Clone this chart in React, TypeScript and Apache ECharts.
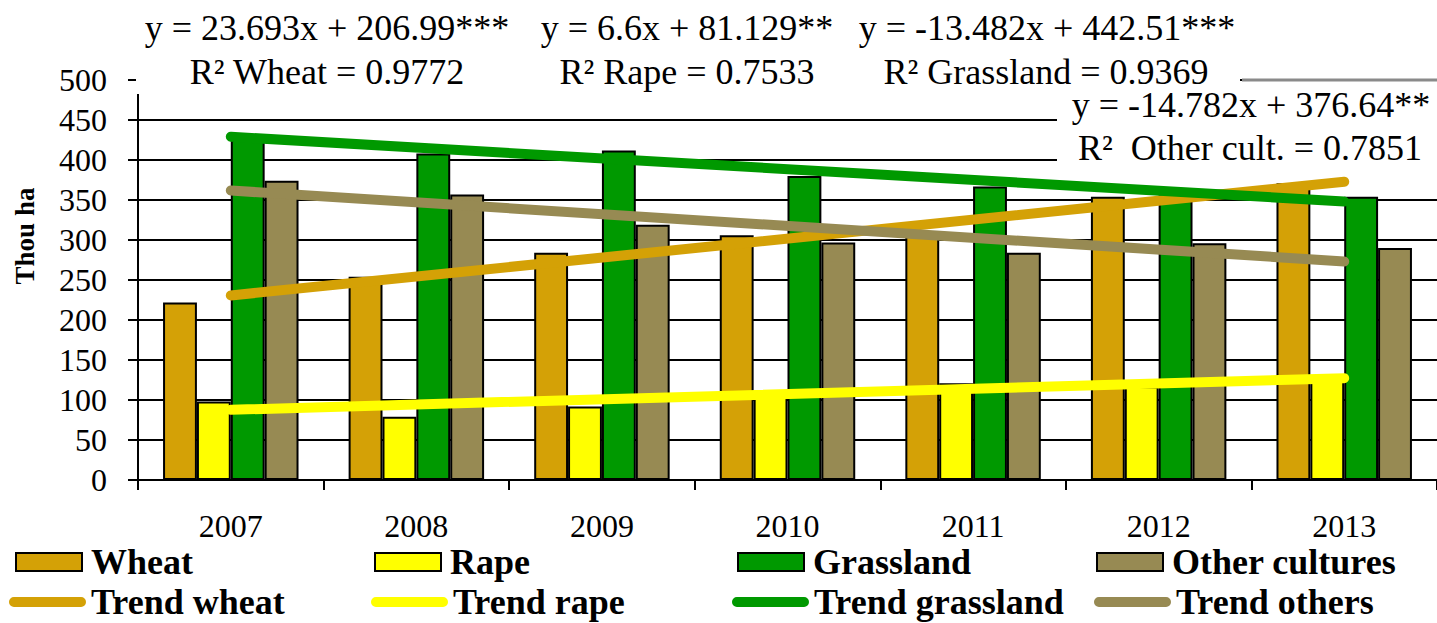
import React, { useEffect, useRef } from "react";
import * as echarts from "echarts";

const years = ["2007", "2008", "2009", "2010", "2011", "2012", "2013"];
const wheat = [222, 254, 284, 306, 310, 354, 371];
const rape = [98, 79, 92, 107, 121, 117, 130];
const grassland = [425, 408, 412, 380, 367, 356, 354];
const others = [374, 357, 319, 297, 284, 296, 290];

// trend line end points (from the fitted equations, x = 1 and x = 7)
const trendWheat = [230.68, null, null, null, null, null, 372.84];
const trendRape = [87.73, null, null, null, null, null, 127.33];
const trendGrass = [429.03, null, null, null, null, null, 348.14];
const trendOthers = [361.86, null, null, null, null, null, 273.17];

const eqWheat = ["y = 23.693x + 206.99***", "R² Wheat = 0.9772"];
const eqRape = ["y = 6.6x + 81.129**", "R² Rape = 0.7533"];
const eqGrass = ["y = -13.482x + 442.51***", "R² Grassland = 0.9369"];
const eqOthers = ["y = -14.782x + 376.64**", "R²  Other cult. = 0.7851"];

const C_WHEAT = "#D4A106";
const C_RAPE = "#FFFF00";
const C_GRASS = "#009900";
const C_OTHER = "#978A53";

const FONT = "Liberation Serif";

const barLegend = (name: string, left: number) => ({
  data: [name],
  left,
  top: 544,
  padding: 0,
  itemWidth: 66,
  itemHeight: 18,
  icon: "rect",
  selectedMode: false,
  itemStyle: { borderColor: "#000", borderWidth: 2 },
  textStyle: {
    fontFamily: FONT,
    fontWeight: "bold",
    fontSize: 36,
    lineHeight: 34,
    color: "#000",
    padding: [0, 0, 0, 4],
  },
});

const LINE_ICON = "path://M5,0L73,0A5,5,0,0,1,73,10L5,10A5,5,0,0,1,5,0Z";

const lineLegend = (name: string, left: number) => ({
  data: [name],
  left,
  top: 584,
  padding: 0,
  itemWidth: 77,
  itemHeight: 10,
  icon: LINE_ICON,
  selectedMode: false,
  itemStyle: { borderWidth: 0 },
  textStyle: {
    fontFamily: FONT,
    fontWeight: "bold",
    fontSize: 36,
    lineHeight: 34,
    color: "#000",
  },
});

const eqText = (text: string, x: number, y: number) => ({
  type: "text",
  x,
  y,
  z: 10,
  style: {
    text,
    fill: "#000",
    fontFamily: FONT,
    fontSize: 36,
    align: "center",
    verticalAlign: "middle",
  },
});

const barSeries = (name: string, data: number[], color: string) => ({
  name,
  type: "bar",
  data,
  barGap: "0%",
  barCategoryGap: "27%",
  itemStyle: { color, borderColor: "#000", borderWidth: 2 },
  z: 2,
});

const lineSeries = (name: string, data: (number | null)[], color: string) => ({
  name,
  type: "line",
  data,
  connectNulls: true,
  symbol: "none",
  color,
  itemStyle: { color },
  lineStyle: { color, width: 10, cap: "round" },
  z: 5,
});

export default function App() {
  const ref = useRef<HTMLDivElement>(null);
  useEffect(() => {
    document.body.style.margin = "0";
    const chart = echarts.init(ref.current!, null, { renderer: "svg" });
    const option: any = {
      animation: false,
      backgroundColor: "#fff",
      textStyle: { fontFamily: FONT },
      grid: { left: 138, top: 80, width: 1304, height: 400 },
      xAxis: {
        type: "category",
        data: years,
        axisLine: { lineStyle: { color: "#000", width: 2 } },
        axisTick: { show: true, length: 10, lineStyle: { color: "#000", width: 2 } },
        axisLabel: { fontFamily: FONT, fontSize: 32, color: "#000", margin: 30 },
      },
      yAxis: {
        type: "value",
        min: 0,
        max: 500,
        interval: 50,
        axisLine: { show: true, lineStyle: { color: "#000", width: 2 } },
        axisTick: { show: true, length: 10, lineStyle: { color: "#000", width: 2 } },
        splitLine: { show: true, lineStyle: { color: "#000", width: 2 } },
        axisLabel: { fontFamily: FONT, fontSize: 32, color: "#000", margin: 31 },
      },
      legend: [
        barLegend("Wheat", 15),
        barLegend("Rape", 374),
        barLegend("Grassland", 737),
        barLegend("Other cultures", 1096),
        lineLegend("Trend wheat", 9),
        lineLegend("Trend rape", 371),
        lineLegend("Trend grassland", 732),
        lineLegend("Trend others", 1094),
      ],
      graphic: [
        { type: "rect", z: 1, shape: { x: 136, y: 0, width: 1104, height: 94 }, style: { fill: "#fff" } },
        { type: "rect", z: 1, shape: { x: 1057, y: 88, width: 380, height: 82 }, style: { fill: "#fff" } },
        { type: "line", z: 1, shape: { x1: 1242, y1: 80, x2: 1437, y2: 80 }, style: { stroke: "#8a8a8a", lineWidth: 3 } },
        {
          type: "text",
          x: 25,
          y: 236,
          rotation: Math.PI / 2,
          z: 10,
          style: {
            text: "Thou ha",
            fill: "#000",
            fontFamily: FONT,
            fontWeight: "bold",
            fontSize: 27,
            align: "center",
            verticalAlign: "middle",
          },
        },
        eqText(eqWheat[0], 327, 28),
        eqText(eqWheat[1], 327, 72),
        eqText(eqRape[0], 687, 28),
        eqText(eqRape[1], 687, 72),
        eqText(eqGrass[0], 1047, 28),
        eqText(eqGrass[1], 1046, 72),
        eqText(eqOthers[0], 1251, 105),
        eqText(eqOthers[1], 1250, 148),
      ],
      series: [
        barSeries("Wheat", wheat, C_WHEAT),
        barSeries("Rape", rape, C_RAPE),
        barSeries("Grassland", grassland, C_GRASS),
        barSeries("Other cultures", others, C_OTHER),
        lineSeries("Trend wheat", trendWheat, C_WHEAT),
        lineSeries("Trend rape", trendRape, C_RAPE),
        lineSeries("Trend grassland", trendGrass, C_GRASS),
        lineSeries("Trend others", trendOthers, C_OTHER),
      ],
    };
    chart.setOption(option);
    return () => chart.dispose();
  }, []);
  return <div ref={ref} style={{ width: 1437, height: 623 }} />;
}
